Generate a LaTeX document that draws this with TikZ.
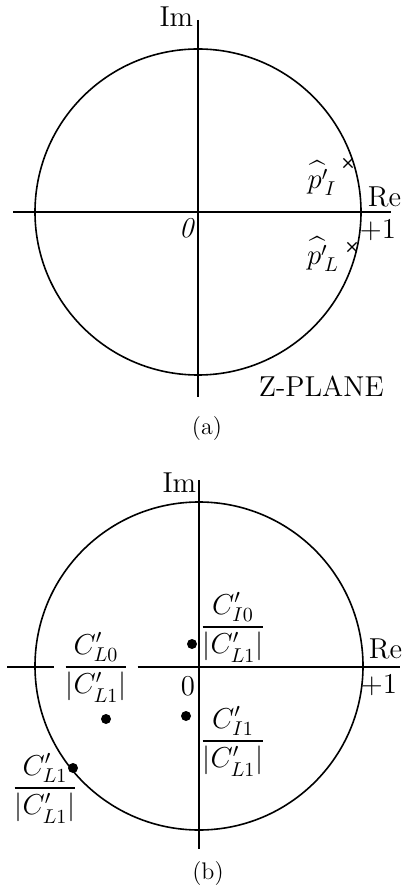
\RequirePackage{fix-cm}
\documentclass[tikz,border=0pt]{standalone}
\usepackage{amsmath}
\usetikzlibrary{shapes.misc}
\newcommand{\myfrac}[2]{\genfrac{}{}{0.7pt}{0}{#1}{#2}}
\begin{document}
\begin{tikzpicture}[x=0.5pt,y=-0.5pt, line width=0.8pt,
  lbl/.style={inner sep=0pt, font=\fontsize{14.4}{17}\selectfont},
  frac/.style={lbl, anchor=base},
  dotmark/.style={circle, fill=black, inner sep=0pt, minimum size=5pt},
  crossmark/.style={cross out, draw, line width=0.6pt, inner sep=0pt, minimum size=4pt},
  caption/.style={inner sep=0pt, font=\fontsize{12}{14}\selectfont}]
\useasboundingbox (0,0) rectangle (404,886);
% ---------- panel (a) ----------
\coordinate (Oa) at (198,212);
\coordinate (aT) at (198,20);
\coordinate (aB) at (198,397);
\coordinate (aL) at (13,212);
\coordinate (aR) at (391,212);
\draw (Oa) circle [radius=81.5pt];
\draw (aT) -- (aB);
\draw (aL) -- (aR);
\node[lbl, anchor=base east] (ima) at (194,27) {Im};
\node[lbl, anchor=base east] (rea) at (402,207) {Re};
\node[lbl] (onea) at (378,230) {$+1$};
\node[lbl] (zeroa) at (187,228) {\textit{0}};
\node[lbl] (pI) at (322,178) {$\widehat{p'}_{\!I}$};
\node[lbl] (pL) at (323,254) {$\widehat{p'}_{\!L}$};
\node[crossmark] (xI) at (348,163) {};
\node[crossmark] (xL) at (352,247) {};
\node[lbl, anchor=base west] (zp) at (258,397) {Z-PLANE};
\node[caption] (capa) at (207,429) {(a)};
% ---------- panel (b) ----------
\coordinate (Ob) at (199,666);
\coordinate (bT) at (199,480);
\coordinate (bB) at (199,849);
\coordinate (bL) at (7,667);
\coordinate (bR) at (400,667);
\draw (Ob) circle [radius=82pt];
\draw (bT) -- (bB);
\node[lbl, anchor=base east] (imb) at (197,492) {Im};
\node[lbl, anchor=base east] (reb) at (403,658) {Re};
\node[lbl] (oneb) at (379,685) {$+1$};
\node[lbl] (zerob) at (188,686) {0};
\node[dotmark] (d1) at (192,644) {};
\node[dotmark] (d2) at (106,719) {};
\node[dotmark] (d3) at (186,716) {};
\node[dotmark] (d4) at (73,768) {};
\node[frac] (fI0) at (233,634) {$\myfrac{C'_{I0}}{|C'_{L1}|}$};
\node[frac, inner xsep=4pt] (fL0) at (96,674) {$\myfrac{C'_{L0}}{|C'_{L1}|}$};
\node[frac] (fI1) at (233,748) {$\myfrac{C'_{I1}}{|C'_{L1}|}$};
\node[frac] (fL1) at (45,795) {$\myfrac{C'_{L1}}{|C'_{L1}|}$};
\draw (bL) -- (bL -| fL0.west);
\draw (bR -| fL0.east) -- (bR);
\node[caption] (capb) at (208,874) {(b)};
\end{tikzpicture}
\end{document}
